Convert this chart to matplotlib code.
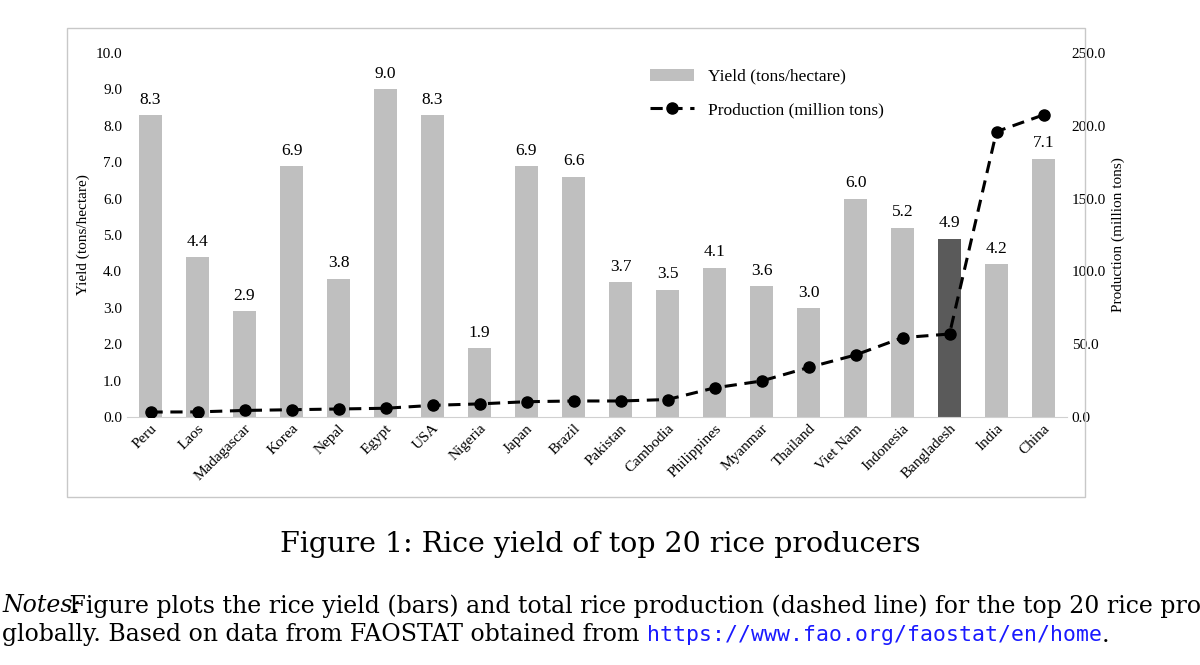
import matplotlib.pyplot as plt
from matplotlib.patches import Rectangle

countries = ['Peru', 'Laos', 'Madagascar', 'Korea', 'Nepal', 'Egypt', 'USA', 'Nigeria', 'Japan', 'Brazil',
             'Pakistan', 'Cambodia', 'Philippines', 'Myanmar', 'Thailand', 'Viet Nam', 'Indonesia',
             'Bangladesh', 'India', 'China']
yield_vals = [8.3, 4.4, 2.9, 6.9, 3.8, 9.0, 8.3, 1.9, 6.9, 6.6, 3.7, 3.5, 4.1, 3.6, 3.0, 6.0, 5.2, 4.9, 4.2, 7.1]
production = [3.4, 3.5, 4.5, 5.0, 5.5, 6.0, 8.0, 9.0, 10.5, 11.0, 11.0, 12.0, 20.0, 24.7, 34.0, 42.6, 54.5, 57.0, 196.0, 207.5]

plt.rcParams['font.family'] = ['Liberation Serif', 'DejaVu Serif']

fig = plt.figure(figsize=(12, 6.65), dpi=100)
fig.patches.append(Rectangle((67/1200, 1-497/665), (1085-67)/1200, (497-28)/665,
                             transform=fig.transFigure, fill=False, edgecolor='#c8c8c8', lw=1))
ax = fig.add_axes([127/1200, 1-417/665, (1067-127)/1200, (417-53)/665])
x = range(len(countries))
colors = ['#5a5a5a' if c == 'Bangladesh' else '#bfbfbf' for c in countries]
ax.bar(x, yield_vals, width=0.47, color=colors, label='Yield (tons/hectare)')
for xi, v in zip(x, yield_vals):
    ax.text(xi, v + 0.2, f'{v:.1f}', ha='center', va='bottom', fontsize=12.5)
ax.set_ylim(0, 10)
ax.set_yticks([i for i in range(11)])
ax.set_yticklabels([f'{i:.1f}' for i in range(11)], fontsize=11)
ax.set_xlim(-0.5, len(countries) - 0.5)
ax.set_xticks(list(x))
ax.set_xticklabels(countries, rotation=45, ha='right', rotation_mode='anchor', fontsize=11)
ax.set_ylabel('Yield (tons/hectare)', fontsize=11)
ax.tick_params(length=0)
for s in ['top', 'right', 'left']:
    ax.spines[s].set_visible(False)
ax.spines['bottom'].set_color('#d0d0d0')

ax2 = ax.twinx()
ax2.plot(list(x), production, '--', color='black', lw=2.2, marker='o', markersize=8,
         dashes=(4, 2.5), label='Production (million tons)')
ax2.set_ylim(0, 250)
ax2.set_yticks(range(0, 251, 50))
ax2.set_yticklabels([f'{i:.1f}' for i in range(0, 251, 50)], fontsize=11)
ax2.set_ylabel('Production (million tons)', fontsize=11)
ax2.tick_params(length=0)
for s in ax2.spines.values():
    s.set_visible(False)

h1, l1 = ax.get_legend_handles_labels()
h2, l2 = ax2.get_legend_handles_labels()
ax2.legend(h1 + h2, l1 + l2, loc='upper left', bbox_to_anchor=(0.54, 1.0), frameon=False,
           fontsize=12.5, labelspacing=1.0, handlelength=2.5)

fig.text(0.5, 1-545/665, 'Figure 1: Rice yield of top 20 rice producers', ha='center', va='center',
         fontsize=20.5, family='DejaVu Serif')
fig.text(2/1200, 1-606/665, 'Notes:', fontsize=17, style='italic', va='center', family='DejaVu Serif')
fig.text(62/1200, 1-606/665, ' Figure plots the rice yield (bars) and total rice production (dashed line) for the top 20 rice producers',
         fontsize=17, va='center', family='DejaVu Serif')
t2 = fig.text(2/1200, 1-635/665, 'globally. Based on data from FAOSTAT obtained from ', fontsize=17,
              va='center', family='DejaVu Serif')
t3 = fig.text(0, 0, 'https://www.fao.org/faostat/en/home', fontsize=15.5, family='DejaVu Sans Mono',
              color='#1a1aff', va='center')
fig.canvas.draw()
r = fig.canvas.get_renderer()
bb = t2.get_window_extent(r)
t3.set_position((bb.x1 / fig.bbox.width, 1-635/665))
bb3 = t3.get_window_extent(r)
fig.text(bb3.x1 / fig.bbox.width, 1-635/665, '.', fontsize=17, va='center', family='DejaVu Serif')

fig.savefig('out.png', dpi=100)
